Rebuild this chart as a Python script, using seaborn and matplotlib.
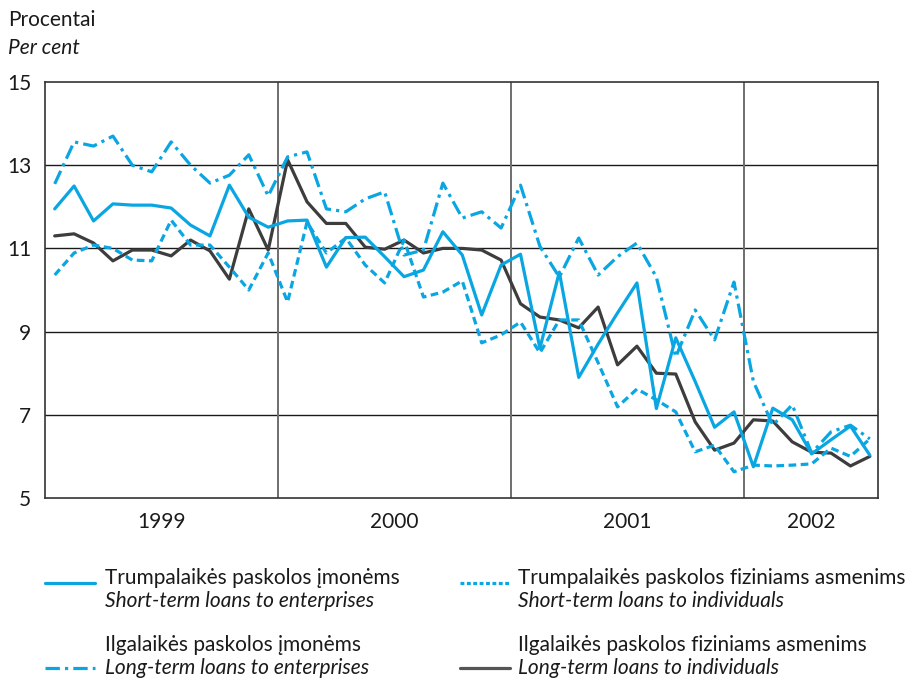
import pandas as pd
import matplotlib.pyplot as plt
import seaborn as sns
from matplotlib.lines import Line2D

# Monthly interest rates, Jan 1999 - Jul 2002 (per cent)
months = list(range(43))
short_ent = [11.95, 12.5, 11.66, 12.07, 12.04, 12.04, 11.97, 11.56, 11.3, 12.52,
             11.75, 11.51, 11.66, 11.68, 10.55, 11.26, 11.27, 10.8, 10.32, 10.48,
             11.4, 10.84, 9.4, 10.6, 10.86, 8.6, 10.43, 7.9, 8.7, 9.45,
             10.17, 7.15, 8.85, 7.8, 6.7, 7.07, 5.75, 7.16, 6.88, 6.06,
             6.4, 6.73, 6.03]
long_ent = [12.55, 13.56, 13.46, 13.7, 13.0, 12.84, 13.56, 13.0, 12.57, 12.76,
            13.25, 12.26, 13.2, 13.32, 11.95, 11.88, 12.19, 12.36, 10.84, 10.96,
            12.57, 11.73, 11.88, 11.49, 12.52, 11.05, 10.31, 11.25, 10.36, 10.8,
            11.13, 10.31, 8.39, 9.52, 8.8, 10.19, 7.8, 6.75, 7.24, 6.08,
            6.59, 6.75, 6.42]
short_ind = [10.36, 10.89, 11.08, 11.0, 10.72, 10.7, 11.68, 11.08, 11.08, 10.55,
             10.0, 10.89, 9.71, 11.63, 10.89, 11.25, 10.6, 10.17, 11.2, 9.83,
             9.95, 10.22, 8.73, 8.92, 9.23, 8.49, 9.28, 9.28, 8.25, 7.19,
             7.62, 7.36, 7.07, 6.11, 6.27, 5.63, 5.79, 5.77, 5.79, 5.82,
             6.2, 6.0, 6.42]
long_ind = [11.3, 11.35, 11.13, 10.7, 10.96, 10.96, 10.82, 11.2, 10.94, 10.26,
            11.95, 10.96, 13.13, 12.12, 11.6, 11.6, 11.03, 10.98, 11.2, 10.89,
            11.0, 11.0, 10.96, 10.72, 9.67, 9.35, 9.28, 9.09, 9.59, 8.2,
            8.65, 8.0, 7.98, 6.83, 6.15, 6.32, 6.88, 6.85, 6.35, 6.1,
            6.08, 5.77, 6.0]

years = ['1999', '2000', '2001', '2002']
year_pos = [5.5, 17.5, 29.5, 39.0]
yticks = [5, 7, 9, 11, 13, 15]

labels_lt = ['Trumpalaikės paskolos įmonėms', 'Ilgalaikės paskolos įmonėms',
             'Trumpalaikės paskolos fiziniams asmenims', 'Ilgalaikės paskolos fiziniams asmenims']
labels_en = ['Short-term loans to enterprises', 'Long-term loans to enterprises',
             'Short-term loans to individuals', 'Long-term loans to individuals']

blue = '#0aa6e2'
gray = '#3d3d3d'
txt = '#1a1a1a'
fs = 15

sns.set_style('white')
plt.rcParams['font.family'] = ['Lato', 'DejaVu Sans']

fig = plt.figure(figsize=(9.15, 6.81), dpi=100)
ax = fig.add_axes([45 / 915, 1 - 498 / 681, (878 - 45) / 915, (498 - 82) / 681])

df = pd.DataFrame({'month': months, 'short_ent': short_ent, 'long_ent': long_ent,
                   'short_ind': short_ind, 'long_ind': long_ind})

lw = 2.3
styles = {
    'long_ind': dict(color=gray, dashes=(None, None)),
    'short_ind': dict(color=blue, dashes=(2.4, 1.4)),
    'long_ent': dict(color=blue, dashes=(4.5, 1.6, 1.0, 1.6)),
    'short_ent': dict(color=blue, dashes=(None, None)),
}
for col in ['long_ind', 'short_ind', 'long_ent', 'short_ent']:
    st = styles[col]
    sns.lineplot(data=df, x='month', y=col, ax=ax, color=st['color'], lw=lw)
    if st['dashes'][0] is not None:
        ax.lines[-1].set_dashes(st['dashes'])

ax.set_xlim(-0.5, 42.42)
ax.set_ylim(5, 15)
ax.set_yticks(yticks)
ax.set_yticklabels([str(v) for v in yticks])
ax.set_xticks(year_pos)
ax.set_xticklabels(years)
ax.tick_params(axis='both', length=0, labelsize=fs, colors=txt)
ax.tick_params(axis='y', pad=10)
ax.tick_params(axis='x', pad=10)
ax.set_xlabel('')
ax.set_ylabel('')

for v in [7, 9, 11, 13]:
    ax.axhline(v, color='#1a1a1a', lw=1.0, zorder=0)
for v in [11.5, 23.5, 35.5]:
    ax.axvline(v, color='#6e6e6e', lw=1.4, zorder=0)
for s in ax.spines.values():
    s.set_color('#333333')
    s.set_linewidth(1.2)

fig.text(8 / 915, 1 - 20 / 681, 'Procentai', fontsize=fs, va='center', ha='left', color=txt)
fig.text(8 / 915, 1 - 48 / 681, 'Per cent', fontsize=fs, va='center', ha='left',
         style='italic', color=txt)

# legend, drawn by hand to mirror the two-line bilingual entries
leg = [
    (45, 583, 105, 578, blue, None, 0),
    (45, 668, 105, 645, blue, (4.5, 1.6, 1.0, 1.6), 1),
    (460, 583, 518, 578, blue, (1.2, 0.8), 2),
    (460, 668, 518, 645, '#555555', None, 3),
]
for lx, ly, tx, ty, c, d, i in leg:
    line = Line2D([lx / 915, (lx + 50) / 915], [1 - ly / 681, 1 - ly / 681],
                  transform=fig.transFigure, color=c, lw=lw)
    if d is not None:
        line.set_dashes(d)
    fig.add_artist(line)
    fig.text(tx / 915, 1 - ty / 681, labels_lt[i], fontsize=fs, va='center', color=txt)
    fig.text(tx / 915, 1 - (ty + 23) / 681, labels_en[i], fontsize=fs, va='center',
             style='italic', color=txt)

fig.savefig('out.png', dpi=100)
